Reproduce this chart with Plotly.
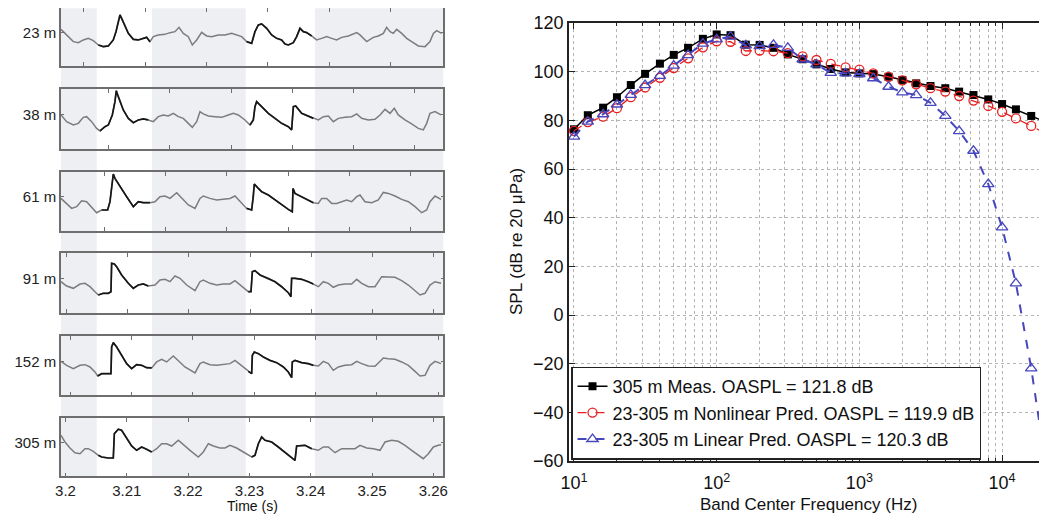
import plotly.graph_objects as go

W, H = 1047, 514          # browser window
BODY = 8                  # default page margin in front of the plot div
FONT = "Liberation Sans, Arial, sans-serif"


def px_x(x):
    return (x - BODY) / W


def px_y(y):
    return 1 - (y - BODY) / H


# ---------------- Right panel: one-third-octave spectra ----------------
freq_hz = [10, 12.5, 16, 20, 25, 31.5, 40, 50, 63, 80, 100, 125, 160, 200, 250, 315, 400,
           500, 630, 800, 1000, 1250, 1600, 2000, 2500, 3150, 4000, 5000, 6300, 8000,
           10000, 12500, 16000, 20000]
spl_meas = [76.3, 82.1, 85.2, 89.5, 94.5, 99.1, 103.3, 106.9, 109.8, 113.5,
            115.3, 115.0, 111.1, 111.0, 109.8, 107.1, 105.1, 103.0, 101.1, 99.7,
            99.3, 99.0, 97.9, 96.6, 95.2, 94.1, 93.2, 91.8, 90.4, 88.6,
            86.7, 84.5, 81.8, 79.4]
spl_nonlin = [75.7, 79.3, 81.5, 85.0, 89.5, 93.5, 97.5, 101.5, 105.5, 110.0,
              112.5, 112.3, 108.5, 108.7, 108.4, 107.6, 106.3, 104.8, 103.2, 101.8,
              100.8, 99.3, 97.9, 96.4, 94.8, 93.2, 91.8, 90.0, 88.1, 85.9,
              83.5, 80.8, 77.7, 74.7]
spl_lin = [73.3, 79.5, 82.5, 86.5, 90.5, 94.5, 98.3, 102.5, 106.8, 111.5,
           113.3, 114.4, 110.8, 110.5, 111.0, 109.8, 105.0, 103.0, 99.5, 99.3,
           99.0, 97.3, 93.8, 91.5, 90.4, 87.2, 81.8, 75.6, 67.5, 53.8,
           36.0, 13.0, -21.9, -59.8]
legend_names = ["305 m Meas. OASPL = 121.8 dB",
                "23-305 m Nonlinear Pred. OASPL = 119.9 dB",
                "23-305 m Linear Pred. OASPL = 120.3 dB"]

# ---------------- Left panels: waveforms (time in ms after 3.2 s) ----------------
labels = ["23 m", "38 m", "61 m", "91 m", "152 m", "305 m"]

t1 = [-0.73, 0.19, 1.28, 2.09, 2.91, 3.72, 4.54, 5.36, 6.17, 6.99, 7.80, 8.24, 8.62, 8.89, 9.16, 9.71,
      10.25, 11.07, 11.88, 12.70, 13.24, 13.78, 14.33, 15.14, 16.23, 17.05, 17.86, 18.52, 19.22, 20.04,
      20.69, 21.40, 22.21, 23.03, 23.84, 24.93, 26.02, 27.11, 27.92, 28.74, 29.55, 30.37, 30.91, 31.46,
      32.00, 32.82, 33.63, 34.45, 35.26, 35.81, 36.35, 37.17, 37.71, 38.25, 38.80, 39.34, 40.16, 40.97,
      41.79, 42.60, 43.42, 44.23, 45.05, 46.14, 47.50, 48.04, 49.13, 50.22, 51.03, 51.85, 52.39, 52.94,
      53.48, 54.02, 54.84, 55.66, 56.47, 57.56, 58.65, 59.46, 60.01, 60.55, 61.36]
p1 = [7.8, 2.2, -4.5, -5.5, -2.8, -1.2, -3.5, -7.8, -9.5, -8.8, -2.8, 5.5, 15.5, 22.2, 18.8, 10.5,
      3.8, -2.2, -2.8, -1.2, -0.2, -4.5, 0.5, 2.2, 2.8, 4.5, 5.5, 9.8, 3.8, 0.5,
      -7.8, -2.8, 4.8, 1.2, 0.5, 2.2, 2.2, 3.8, 2.2, 0.5, -4.5, -6.2, 5.5, 12.2,
      13.2, 8.8, 2.2, -1.2, -2.8, -6.8, -7.8, -5.5, 0.5, 8.8, 5.5, 4.5, 1.2, -2.8,
      -1.2, 0.5, -1.2, -2.8, -0.2, 1.2, 4.5, 2.2, -4.5, -0.2, 1.2, 3.8, 9.8, 5.5,
      3.8, 7.8, 3.8, -1.2, -4.5, -8.8, -9.5, -4.5, 3.8, 6.5, 3.8]

t2 = [-0.73, 0.19, 1.28, 2.09, 2.91, 3.45, 4.27, 5.08, 5.63, 6.44, 6.99, 7.64, 8.07, 8.29, 8.62, 9.43,
      10.25, 11.07, 11.88, 12.70, 13.51, 14.33, 15.14, 15.96, 16.78, 17.59, 18.41, 19.22, 20.04, 20.69,
      21.40, 21.94, 22.48, 23.30, 24.39, 25.48, 26.56, 27.38, 28.19, 29.28, 30.10, 30.64, 30.91, 31.18,
      32.00, 33.09, 34.18, 35.26, 36.35, 36.89, 37.17, 37.55, 38.53, 39.61, 40.43, 41.25, 42.06, 42.88,
      43.69, 44.51, 45.59, 46.68, 47.50, 48.32, 49.40, 50.49, 51.31, 52.12, 52.94, 53.64, 54.29, 55.38,
      56.47, 57.56, 58.37, 58.92, 59.46, 60.28, 61.26]
p2 = [4.2, -2.5, -5.8, -4.2, 1.8, 2.5, -2.5, -9.2, -11.8, -7.5, -5.8, 4.2, 17.5, 28.5, 22.5, 9.2,
      0.8, -3.5, -0.8, 0.2, -0.8, -2.5, 2.5, 4.2, 3.2, 5.8, 2.5, 0.8, -4.2, -8.2,
      -2.5, 7.5, 5.2, 3.2, 2.5, 1.8, 4.2, 5.8, 4.2, -0.8, -5.8, -0.8, 12.5, 17.5,
      12.5, 5.8, 0.8, -4.2, -7.5, -10.8, 12.5, 13.2, 5.8, 3.2, 0.8, -0.8, 2.5, 3.2,
      -2.5, 0.8, 1.8, 2.5, 5.2, 0.8, -0.8, -0.2, 4.2, 9.8, 5.8, 10.8, 4.2, -0.8,
      -4.8, -9.2, -10.8, -4.2, 5.8, 7.5, 4.2]

t3 = [-0.73, 0.19, 1.01, 1.82, 2.64, 3.45, 4.27, 5.08, 5.90, 6.88, 7.26, 7.53, 7.80, 8.07, 8.89, 9.98,
      11.07, 11.88, 12.70, 13.78, 14.60, 15.42, 16.23, 17.05, 18.14, 18.95, 20.04, 21.13, 21.94, 22.48,
      23.57, 24.66, 25.75, 26.83, 27.65, 28.47, 29.55, 30.37, 30.64, 30.80, 31.46, 32.00, 33.09, 34.18,
      35.26, 36.35, 37.00, 37.11, 37.44, 38.53, 39.61, 40.43, 41.25, 41.79, 42.60, 43.42, 44.23, 45.05,
      45.87, 46.68, 47.50, 48.04, 48.86, 49.95, 51.03, 51.85, 52.67, 53.75, 54.84, 55.93, 57.02, 58.10,
      58.92, 59.46, 60.28, 61.26]
p3 = [2.8, -2.2, -7.2, -5.5, 0.5, -0.5, -5.5, -11.5, -8.8, -8.8, -0.5, 11.2, 27.2, 22.8, 14.5, 4.5,
      -5.5, -0.5, -1.5, -1.5, -0.5, 4.5, 5.2, 2.8, 8.5, 2.8, -3.8, -7.2, 2.8, 5.2,
      2.8, 1.2, 1.8, 2.8, 5.2, -0.5, -7.2, -8.8, 4.5, 17.2, 12.8, 9.5, 6.2, 1.2,
      -3.8, -8.2, -10.5, 12.8, 7.8, 4.5, 1.8, -1.5, -2.2, 2.8, 2.8, -2.2, -2.2, -0.5,
      1.2, -0.5, 4.5, 6.2, -0.5, -1.5, 1.2, 8.8, 7.8, 5.2, 1.8, -0.5, -5.5, -11.5,
      -8.8, -0.5, 5.2, 1.8]

t4 = [-0.73, 0.19, 1.28, 2.37, 3.18, 4.00, 4.81, 5.36, 6.17, 6.99, 7.42, 7.53, 7.97, 8.35, 9.16, 10.25,
      11.07, 11.88, 12.70, 13.51, 14.60, 15.42, 16.23, 17.05, 17.86, 18.68, 19.77, 21.13, 21.94, 22.48,
      23.57, 24.66, 25.75, 26.83, 27.65, 28.74, 29.82, 30.26, 30.48, 30.91, 31.73, 33.09, 34.18, 35.26,
      36.35, 36.78, 36.89, 37.44, 38.53, 39.61, 40.43, 41.25, 42.06, 42.88, 43.69, 44.51, 45.59, 46.68,
      47.50, 48.32, 49.40, 50.49, 51.58, 52.67, 53.75, 54.84, 55.93, 57.02, 57.83, 58.65, 59.46, 60.28,
      61.26]
p4 = [1.3, -3.0, -5.3, -1.0, -0.3, -3.7, -8.7, -12.0, -10.3, -10.3, -8.7, 19.7, 19.0, 16.3, 8.0, -0.3,
      -5.3, -2.0, -1.0, -3.0, -2.0, 3.0, 3.7, 1.3, 7.0, 4.7, -2.0, -7.7, 1.3, 3.0,
      -0.3, -2.0, -1.0, -1.0, 2.3, -3.0, -8.7, -8.7, 11.3, 12.3, 8.0, 4.7, 1.3, -3.7,
      -9.7, -13.7, 4.7, 4.7, 3.7, 1.3, -1.0, -3.7, 1.3, -0.3, -4.3, -2.0, -1.0, -1.0,
      3.7, -0.3, -3.7, -3.7, 6.3, 5.7, 5.7, 2.3, -2.0, -7.7, -12.0, -10.3, -2.0, 1.3,
      -0.3]

t5 = [-0.73, 0.19, 1.28, 2.37, 3.18, 4.00, 4.81, 5.25, 5.90, 6.99, 7.42, 7.53, 7.80, 8.35, 9.16, 9.98,
      10.79, 11.61, 12.43, 13.24, 14.06, 14.87, 15.69, 16.50, 17.59, 18.41, 19.49, 21.13, 21.94, 22.48,
      23.57, 24.66, 25.75, 26.83, 27.65, 28.74, 29.82, 30.37, 30.48, 30.80, 31.46, 32.27, 33.36, 34.45,
      35.54, 36.35, 36.89, 37.00, 37.44, 38.53, 39.61, 40.43, 41.25, 42.06, 42.88, 43.69, 44.51, 45.59,
      46.68, 47.50, 48.32, 49.40, 50.49, 51.85, 52.67, 53.75, 54.84, 55.93, 57.02, 57.83, 58.65, 59.46,
      60.28, 61.26]
p5 = [4.3, 0.3, -3.0, 0.3, 1.0, -1.3, -6.3, -10.3, -8.0, -8.0, -8.0, 18.7, 23.0, 18.7, 10.3, 2.0,
      -3.0, 1.0, 0.3, -2.0, -2.3, 3.7, 6.3, 3.7, 9.7, 5.3, -1.3, -7.3, 2.0, 3.7,
      1.0, 0.3, 1.0, 2.0, 5.3, -0.3, -5.7, -8.0, 10.3, 13.7, 12.0, 8.7, 5.3, 3.0,
      -1.3, -6.3, -12.0, 3.7, 5.3, 3.0, 2.0, 0.3, -0.3, 4.3, 2.0, -4.7, -1.3, 0.3,
      1.0, 4.3, 2.0, -0.3, -0.7, 7.7, 7.0, 6.3, 3.7, 0.3, -5.7, -10.3, -9.7, 0.3,
      4.3, 2.0]

t6 = [-0.73, -0.08, 0.73, 1.55, 2.37, 3.18, 3.72, 4.54, 5.36, 5.90, 6.99, 7.80, 7.97, 8.62, 9.16, 9.98,
      10.79, 11.61, 12.43, 13.24, 14.06, 14.87, 15.69, 16.50, 17.32, 18.41, 19.22, 20.31, 21.67, 22.48,
      23.30, 24.12, 25.20, 26.02, 26.83, 27.92, 29.01, 30.37, 30.91, 31.46, 32.00, 32.55, 33.63, 34.72,
      35.81, 36.89, 37.44, 37.71, 38.25, 39.07, 40.16, 41.25, 42.06, 42.88, 43.96, 45.05, 46.14, 47.23,
      48.04, 49.13, 50.22, 51.31, 52.12, 53.21, 54.29, 55.38, 56.47, 57.56, 58.37, 59.19, 60.01, 60.82,
      61.26]
p6 = [11.7, 5.0, -1.0, -5.7, -6.7, -1.7, -1.7, -4.3, -8.3, -10.0, -11.0, -11.0, 13.3, 17.7, 16.7, 8.3,
      1.0, -3.3, 0.0, -2.3, -5.0, -1.7, 3.3, 3.3, 1.0, 6.7, 2.3, -3.3, -10.0, -5.0,
      3.3, 1.0, -1.0, -1.0, 1.7, -1.0, -5.0, -10.0, -8.3, 3.3, 10.0, 6.7, 5.0, 0.0,
      -5.0, -10.0, -13.3, 1.0, 1.0, 1.7, -1.7, -3.3, 0.0, 0.0, -5.7, -1.7, -1.7, -1.7,
      1.7, -1.0, -1.7, -3.3, 5.0, 6.7, 5.7, 1.7, -3.3, -8.3, -11.7, -6.7, 0.0, 1.7,
      2.3]

t_ms = [t1, t2, t3, t4, t5, t6]
p_wave = [p1, p2, p3, p4, p5, p6]
for a, b in zip(t_ms, p_wave):
    assert len(a) == len(b), (len(a), len(b))

tick_offset_ms = [3.0, 7.0, 6.3, 0.1, 0.8, 0.0]
time_ticks = [3.2, 3.21, 3.22, 3.23, 3.24, 3.25, 3.26]
time_ticktext = ["3.2", "3.21", "3.22", "3.23", "3.24", "3.25", "3.26"]
white_bands_ms = [(5.1, 14.1), (29.4, 40.7)]
gray_bands_ms = [(-1.0, 5.1), (14.1, 29.4), (40.7, 62.0)]

# ---------------- layout geometry (reference pixels) ----------------
XMIN_MS, XMAX_MS = -0.73, 61.63
LEFT_X0, LEFT_X1 = px_x(61), px_x(443.3)
panel_top_px = [8.3, 89.3, 171.7, 253.3, 336.0, 417.7]
panel_bot_px = [66.0, 149.0, 230.7, 312.7, 395.3, 476.3]
BASE = 4.3   # waveform baseline (label position)

FRAME = "#6e6e6e"
fig = go.Figure()
layout = {}

for i in range(6):
    sfx = "" if i == 0 else str(i + 1)
    xs = [3.2 + v / 1000.0 for v in t_ms[i]]
    ys = p_wave[i]
    fig.add_trace(go.Scatter(x=xs, y=ys, mode="lines",
                             line=dict(color="#7c7c7c", width=1.5),
                             xaxis="x" + sfx, yaxis="y" + sfx,
                             showlegend=False, hoverinfo="skip"))
    ys_hi = [y if any(a <= t <= b for a, b in white_bands_ms) else None
             for t, y in zip(t_ms[i], ys)]
    fig.add_trace(go.Scatter(x=xs, y=ys_hi, mode="lines", connectgaps=False,
                             line=dict(color="#161616", width=1.7),
                             xaxis="x" + sfx, yaxis="y" + sfx,
                             showlegend=False, hoverinfo="skip"))
    top, bot = panel_top_px[i], panel_bot_px[i]
    h = bot - top
    if i == 5:
        tv, tt, show = time_ticks, time_ticktext, True
    else:
        tv = [3.2 + (tick_offset_ms[i] + 10 * k) / 1000.0 for k in range(0, 7)]
        tt, show = None, False
    xa = dict(domain=[LEFT_X0, LEFT_X1],
              range=[3.2 + XMIN_MS / 1000.0, 3.2 + XMAX_MS / 1000.0],
              anchor="y" + sfx, showline=True, mirror="ticks", automargin=False,
              linecolor=FRAME, linewidth=1.6, ticks="inside", ticklen=4,
              tickcolor=FRAME, tickwidth=1.2, tickmode="array", tickvals=tv,
              showticklabels=show, showgrid=False, zeroline=False,
              tickfont=dict(size=15, color="#222", family=FONT))
    if tt is not None:
        xa["ticktext"] = tt
    layout["xaxis" + sfx] = xa
    layout["yaxis" + sfx] = dict(domain=[px_y(bot), px_y(top)],
                                 range=[-h / 2, h / 2], anchor="x" + sfx,
                                 showline=True, mirror="ticks", linecolor=FRAME,
                                 linewidth=1.6, ticks="inside", ticklen=3, automargin=False,
                                 tickcolor=FRAME, tickmode="array",
                                 tickvals=[BASE], ticktext=[labels[i]],
                                 showgrid=False, zeroline=False,
                                 tickfont=dict(size=15, color="#222", family=FONT))

shapes = []
for a, b in gray_bands_ms:
    shapes.append(dict(type="rect", xref="x", yref="paper",
                       x0=3.2 + a / 1000.0, x1=3.2 + b / 1000.0,
                       y0=px_y(panel_bot_px[5]), y1=px_y(panel_top_px[0]),
                       fillcolor="#edeff3", line=dict(width=0), layer="below"))

# ---------------- right panel ----------------
fig.add_trace(go.Scatter(x=freq_hz, y=spl_meas, name=legend_names[0], mode="lines+markers",
                         line=dict(color="#000000", width=1.5),
                         marker=dict(symbol="square", size=8, color="#000000"),
                         xaxis="x7", yaxis="y7"))
fig.add_trace(go.Scatter(x=freq_hz, y=spl_nonlin, name=legend_names[1], mode="lines+markers",
                         line=dict(color="#e82020", width=1.3, dash="dash"),
                         marker=dict(symbol="circle-open", size=9, color="#e82020",
                                     line=dict(width=1.3, color="#e82020")),
                         xaxis="x7", yaxis="y7"))
fig.add_trace(go.Scatter(x=freq_hz, y=spl_lin, name=legend_names[2], mode="lines+markers",
                         line=dict(color="#4646be", width=2, dash="dash"),
                         marker=dict(symbol="triangle-up-open", size=10, color="#4646be",
                                     line=dict(width=1.3, color="#4646be")),
                         xaxis="x7", yaxis="y7"))

decades = [10, 100, 1000, 10000]
minor_vals = [m * d for d in decades for m in range(2, 10)]
GRID = "#b4b4b4"
R_X0_PX, R_X_END_PX = 569, W + BODY          # the panel runs past the window edge
DEC_PX = 142.7                                 # pixels per decade
R_LOG0 = 0.965
R_LOG1 = R_LOG0 + (R_X_END_PX - R_X0_PX) / DEC_PX
layout["xaxis7"] = dict(type="log", domain=[px_x(R_X0_PX), 1.0], range=[R_LOG0, R_LOG1],
                        anchor="y7", tickmode="array", tickvals=decades,
                        ticktext=["10<sup>1</sup>", "10<sup>2</sup>", "10<sup>3</sup>", "10<sup>4</sup>"],
                        ticks="inside", ticklen=6, tickcolor="#222", mirror="ticks",
                        showline=True, linecolor="#222", linewidth=1.6, automargin=False,
                        showgrid=True, gridcolor=GRID, griddash="dot", gridwidth=1,
                        minor=dict(tickmode="array", tickvals=minor_vals, ticks="inside",
                                   ticklen=3, tickcolor="#222", showgrid=True,
                                   gridcolor=GRID, griddash="dot", gridwidth=1),
                        ticklabelstandoff=5,
                        zeroline=False, tickfont=dict(size=18, color="#111", family=FONT))
layout["yaxis7"] = dict(domain=[px_y(461), px_y(23)], range=[-60, 120], anchor="x7",
                        tickmode="linear", tick0=0, dtick=20, automargin=False,
                        ticks="inside", ticklen=6, tickcolor="#222",
                        showline=True, linecolor="#222", linewidth=1.6, mirror=False,
                        showgrid=True, gridcolor=GRID, griddash="dot", gridwidth=1,
                        zeroline=False, tickfont=dict(size=18, color="#111", family=FONT))

annotations = [
    dict(text="SPL (dB re 20 \u03bcPa)", x=px_x(517), y=px_y(242), xref="paper", yref="paper",
         textangle=-90, showarrow=False, xanchor="center", yanchor="middle",
         font=dict(size=17, color="#111", family=FONT)),
    dict(text="Band Center Frequency (Hz)", x=px_x(808), y=px_y(504), xref="paper", yref="paper",
         showarrow=False, xanchor="center", yanchor="middle",
         font=dict(size=17, color="#111", family=FONT)),
    dict(text="Time (s)", x=px_x(252), y=px_y(506), xref="paper", yref="paper",
         showarrow=False, xanchor="center", yanchor="middle",
         font=dict(size=14, color="#111", family=FONT)),
]

fig.update_layout(
    template="none",
    width=W, height=H, margin=dict(l=0, r=0, t=0, b=0, pad=0, autoexpand=False),
    paper_bgcolor="white", plot_bgcolor="rgba(0,0,0,0)",
    font=dict(family=FONT, color="#111"),
    shapes=shapes, annotations=annotations,
    legend=dict(x=px_x(571), y=px_y(459.5), xanchor="left", yanchor="bottom",
                xref="paper", yref="paper", bgcolor="white", bordercolor="#222",
                borderwidth=1.5, font=dict(size=18, color="#111", family=FONT),
                itemwidth=30, tracegroupgap=0, traceorder="normal"),
    **layout,
)

fig.write_html("out.html", config={"displayModeBar": False})
